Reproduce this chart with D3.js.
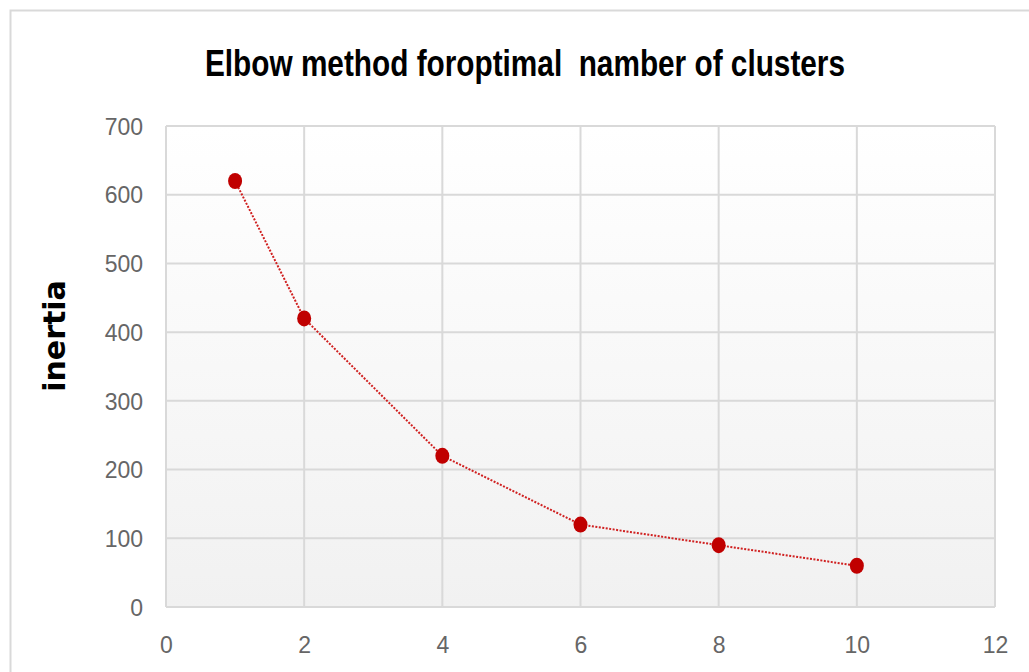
<!DOCTYPE html>
<html>
<head>
<meta charset="utf-8">
<script src="https://cdn.jsdelivr.net/npm/d3@7"></script>
<style>
  body { margin: 0; background: #fff; }
  svg { display: block; }
</style>
</head>
<body>
<div id="chart"></div>
<script>
const clusters = [1, 2, 4, 6, 8, 10]
const inertia = [620, 420, 220, 120, 90, 60]
const xTicks = [0, 2, 4, 6, 8, 10, 12]
const yTicks = [0, 100, 200, 300, 400, 500, 600, 700]
const title = "Elbow method foroptimal\u00a0 namber of clusters"
const yLabel = "inertia"

const width = 1029, height = 672
const m = { left: 166, right: 34, top: 126, bottom: 65 }

const svg = d3.select('#chart').append('svg')
    .attr('width', width)
    .attr('height', height)

// chart frame (cropped at right / bottom)
svg.append('rect')
    .attr('x', 10.5).attr('y', 10.5)
    .attr('width', width + 20).attr('height', height + 20)
    .attr('fill', '#fff')
    .attr('stroke', '#d9d9d9')
    .attr('stroke-width', 2)

const defs = svg.append('defs')
const grad = defs.append('linearGradient')
    .attr('id', 'bg').attr('x1', 0).attr('y1', 0).attr('x2', 0).attr('y2', 1)
grad.append('stop').attr('offset', '0%').attr('stop-color', '#ffffff')
grad.append('stop').attr('offset', '100%').attr('stop-color', '#f1f1f1')

const x = d3.scaleLinear().domain([0, 12]).range([m.left, width - m.right])
const y = d3.scaleLinear().domain([0, 700]).range([height - m.bottom, m.top])

svg.append('rect')
    .attr('x', x(0)).attr('y', y(700))
    .attr('width', x(12) - x(0)).attr('height', y(0) - y(700))
    .attr('fill', 'url(#bg)')

// grid
svg.append('g').selectAll('line')
    .data(yTicks).enter()
    .append('line')
    .attr('x1', x(0)).attr('x2', x(12))
    .attr('y1', d => y(d)).attr('y2', d => y(d))
    .attr('stroke', '#d9d9d9').attr('stroke-width', 2)

svg.append('g').selectAll('line')
    .data(xTicks).enter()
    .append('line')
    .attr('x1', d => x(d)).attr('x2', d => x(d))
    .attr('y1', y(0)).attr('y2', y(700))
    .attr('stroke', '#d9d9d9').attr('stroke-width', 2)

// axes (labels only)
const xAxis = svg.append('g')
    .attr('transform', `translate(0, ${y(0) + 27})`)
    .call(d3.axisBottom(x).tickValues(xTicks).tickSize(0))
const yAxis = svg.append('g')
    .attr('transform', `translate(${x(0) - 20}, 0)`)
    .call(d3.axisLeft(y).tickValues(yTicks).tickSize(0))

for (const ax of [xAxis, yAxis]) {
    ax.select('.domain').remove()
    ax.selectAll('text')
        .style('font-family', '"Liberation Sans Narrow", "Liberation Sans", sans-serif')
        .style('font-size', '23px')
        .attr('fill', '#666')
}
xAxis.selectAll('text').attr('dy', '0.71em')
yAxis.selectAll('text').attr('dy', '0.36em')

// line + markers
const line = d3.line()
    .x((d, i) => x(clusters[i]))
    .y(d => y(d))

svg.append('path')
    .datum(inertia)
    .attr('d', line)
    .attr('fill', 'none')
    .attr('stroke', '#d02020')
    .attr('stroke-width', 2)
    .attr('stroke-dasharray', '2 1.5')

svg.append('g').selectAll('ellipse')
    .data(inertia).enter()
    .append('ellipse')
    .attr('cx', (d, i) => x(clusters[i]))
    .attr('cy', d => y(d))
    .attr('rx', 7).attr('ry', 8)
    .attr('fill', '#c00000')

// title
svg.append('text')
    .attr('x', 525).attr('y', 76)
    .attr('text-anchor', 'middle')
    .attr('textLength', 640)
    .attr('lengthAdjust', 'spacingAndGlyphs')
    .style('font-family', '"Liberation Sans Narrow", "Liberation Sans", sans-serif')
    .style('font-weight', 'bold')
    .style('font-size', '36px')
    .attr('fill', '#000')
    .text(title)

// y label
svg.append('text')
    .attr('transform', 'translate(65, 336) rotate(-90)')
    .attr('text-anchor', 'middle')
    .style('font-family', '"DejaVu Sans", sans-serif')
    .style('font-weight', 'bold')
    .style('font-size', '30px')
    .attr('fill', '#000')
    .text(yLabel)
</script>
</body>
</html>
